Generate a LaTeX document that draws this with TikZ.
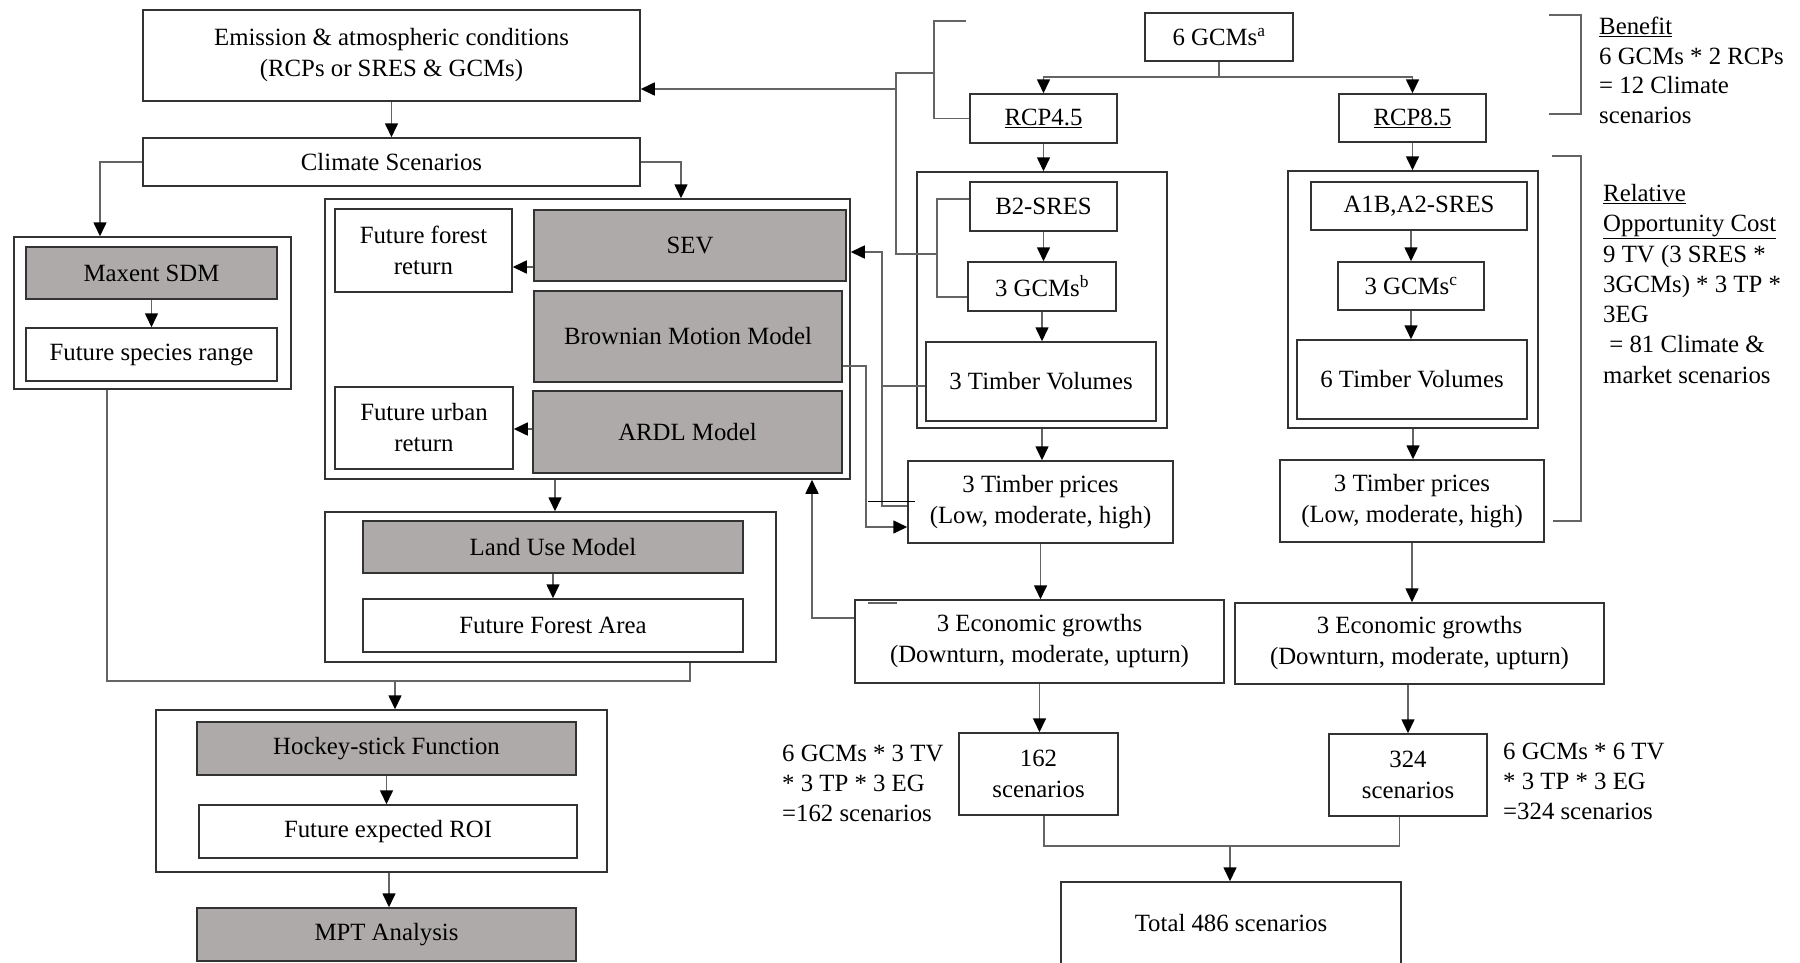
\documentclass[tikz,border=0pt]{standalone}
\usepackage{fontspec}
\setmainfont{Liberation Serif}
\usetikzlibrary{arrows.meta}
\definecolor{modelgray}{RGB}{174,170,170}
\definecolor{linegray}{RGB}{100,100,100}

\begin{document}
\begin{tikzpicture}[
            x=1pt, y=-1pt,
            every node/.style={font=\fontsize{24.8}{31}\selectfont, inner sep=0pt},
            box/.style={draw=black!80, line width=1.5pt, fill=white, align=center},
            modelbox/.style={box, fill=modelgray},
            groupbox/.style={draw=black!80, line width=1.5pt},
            note/.style={align=left, anchor=north west, font=\fontsize{24.8}{29.5}\selectfont},
            conn/.style={draw=linegray, line width=1.6pt},
            arr/.style={conn, -{Triangle[length=14pt, width=13pt, color=black]}}
            ]
        \useasboundingbox (0,0) rectangle (1800,962);

        \node[box, minimum width=497pt, minimum height=91pt] (emis) at (391.5,55.5) {Emission \& atmospheric conditions\\(RCPs or SRES \& GCMs)};
        \node[box, minimum width=497pt, minimum height=48pt] (clim) at (391.5,162) {Climate Scenarios};
        \node[groupbox, minimum width=277pt, minimum height=152pt] (maxgrp) at (152.5,313) {};
        \node[modelbox, minimum width=251pt, minimum height=52pt] (maxent) at (151.5,273) {Maxent SDM};
        \node[box, minimum width=251pt, minimum height=53pt] (range) at (151.5,354.5) {Future species range};
        \node[groupbox, minimum width=525pt, minimum height=280pt] (modgrp) at (587.5,339) {};
        \node[box, minimum width=177pt, minimum height=83pt] (forret) at (423.5,250.5) {Future forest\\return};
        \node[modelbox, minimum width=312pt, minimum height=71pt] (sev) at (690,245.5) {SEV};
        \node[modelbox, minimum width=308pt, minimum height=91pt] (bmm) at (688,336.5) {Brownian Motion Model};
        \node[box, minimum width=178pt, minimum height=82pt] (urbret) at (424,428) {Future urban\\return};
        \node[modelbox, minimum width=309pt, minimum height=82pt] (ardl) at (687.5,432) {ARDL Model};
        \node[groupbox, minimum width=451pt, minimum height=150pt] (lugrp) at (550.5,587) {};
        \node[modelbox, minimum width=380pt, minimum height=52pt] (lum) at (553,547) {Land Use Model};
        \node[box, minimum width=380pt, minimum height=53pt] (area) at (553,625.5) {Future Forest Area};
        \node[groupbox, minimum width=451pt, minimum height=162pt] (hsgrp) at (381.5,791) {};
        \node[modelbox, minimum width=379pt, minimum height=53pt] (hockey) at (386.5,748.5) {Hockey-stick Function};
        \node[box, minimum width=378pt, minimum height=53pt] (roi) at (388,831.5) {Future expected ROI};
        \node[modelbox, minimum width=379pt, minimum height=53pt] (mpt) at (386.5,934.5) {MPT Analysis};

        \node[box, minimum width=148pt, minimum height=48pt] (gcm6) at (1219,37) {6 GCMs\textsuperscript{a}};
        \node[box, minimum width=147pt, minimum height=49pt] (rcp45) at (1043.5,118.5) {\underline{RCP4.5}};
        \node[box, minimum width=147pt, minimum height=48pt] (rcp85) at (1412.5,118) {\underline{RCP8.5}};
        \node[groupbox, minimum width=250pt, minimum height=256pt] (lgrp) at (1042,300) {};
        \node[box, minimum width=147pt, minimum height=49pt] (b2) at (1043.5,206.5) {B2-SRES};
        \node[box, minimum width=148pt, minimum height=49pt] (gcm3b) at (1042,286.5) {3 GCMs\textsuperscript{b}};
        \node[box, minimum width=230pt, minimum height=79pt] (tv3) at (1041,381.5) {3 Timber Volumes};
        \node[groupbox, minimum width=250pt, minimum height=257pt] (rgrp) at (1413,299.5) {};
        \node[box, minimum width=216pt, minimum height=48pt] (a1b) at (1419,206) {A1B,A2-SRES};
        \node[box, minimum width=146pt, minimum height=48pt] (gcm3c) at (1411,286) {3 GCMs\textsuperscript{c}};
        \node[box, minimum width=230pt, minimum height=79pt] (tv6) at (1412,379.5) {6 Timber Volumes};
        \node[box, minimum width=265pt, minimum height=82pt] (tpl) at (1040.5,502) {3 Timber prices\\(Low, moderate, high)};
        \node[box, minimum width=264pt, minimum height=82pt] (tpr) at (1412,501) {3 Timber prices\\(Low, moderate, high)};
        \node[box, minimum width=369pt, minimum height=83pt] (egl) at (1039.5,641.5) {3 Economic growths\\(Downturn, moderate, upturn)};
        \node[box, minimum width=369pt, minimum height=81pt] (egr) at (1419.5,643.5) {3 Economic growths\\(Downturn, moderate, upturn)};
        \node[box, minimum width=159pt, minimum height=82pt] (sc162) at (1038.5,774) {162\\scenarios};
        \node[box, minimum width=158pt, minimum height=82pt] (sc324) at (1408,775) {324\\scenarios};
        \node[box, minimum width=340pt, minimum height=82pt] (total) at (1231,923) {Total 486 scenarios};

        \node[note] (bennote) at (1599,17) {\underline{Benefit}\\6 GCMs * 2 RCPs\\= 12 Climate\\scenarios};
        \node[note, font=\fontsize{24.8}{30.3}\selectfont] (costnote) at (1603,184) {\underline{Relative}\\\underline{Opportunity Cost}\\9 TV (3 SRES *\\3GCMs) * 3 TP *\\3EG\\\ = 81 Climate \&\\market scenarios};
        \node[note, font=\fontsize{24.8}{30}\selectfont] (lnote) at (782,745) {6 GCMs * 3 TV\\{}* 3 TP * 3 EG\\=162 scenarios};
        \node[note, font=\fontsize{24.8}{30}\selectfont] (rnote) at (1503,743) {6 GCMs * 6 TV\\{}* 3 TP * 3 EG\\=324 scenarios};

        \draw[arr] (emis) -- (clim);
        \draw[arr] (clim.west) -| (100,0 |- maxgrp.north);
        \draw[arr] (clim.east) -| (681,0 |- modgrp.north);
        \draw[arr] (sev.west |- 0,267) -- (forret.east |- 0,267);
        \draw[arr] (ardl.west |- 0,429) -- (urbret.east |- 0,429);
        \draw[arr] (maxent) -- (range);
        \draw[arr] (555,0 |- modgrp.south) -- (555,0 |- lugrp.north);
        \draw[arr] (lum) -- (area);
        \coordinate (merge1) at (395,681);
        \draw[conn] (107,0 |- maxgrp.south) |- (merge1) -| (690,0 |- lugrp.south);
        \draw[arr] (merge1) -- (merge1 |- hsgrp.north);
        \draw[arr] (hockey.south) -- (hockey.south |- roi.north);
        \draw[arr] (389,0 |- hsgrp.south) -- (389,0 |- mpt.north);

        \coordinate (split) at (1219,77);
        \draw[conn] (gcm6) -- (split);
        \draw[arr] (split) -| (rcp45);
        \draw[arr] (split) -| (rcp85);
        \draw[arr] (rcp45.south) -- (rcp45.south |- lgrp.north);
        \draw[arr] (rcp85.south) -- (rcp85.south |- rgrp.north);
        \draw[arr] (b2.south) -- (b2.south |- gcm3b.north);
        \draw[arr] (gcm3b.south) -- (gcm3b.south |- tv3.north);
        \draw[arr] (gcm3c |- a1b.south) -- (gcm3c.north);
        \draw[arr] (gcm3c.south) -- (gcm3c.south |- tv6.north);
        \draw[arr] (lgrp.south) -- (lgrp.south |- tpl.north);
        \draw[arr] (rgrp.south) -- (rgrp.south |- tpr.north);
        \draw[arr] (tpl.south) -- (tpl.south |- egl.north);
        \draw[arr] (tpr.south) -- (tpr.south |- egr.north);
        \draw[arr] (egl.south) -- (egl.south |- sc162.north);
        \draw[arr] (sc324.north |- egr.south) -- (sc324.north);
        \coordinate (merge2) at (1230,846);
        \draw[conn] (1044,0 |- sc162.south) |- (merge2) -| (1399.5,0 |- sc324.south);
        \draw[arr] (merge2) -- (merge2 |- total.north);

        \coordinate (brtop) at (966,21);
        \draw[conn] (brtop) -| (934,0 |- rcp45.west) -- (rcp45.west);
        \draw[conn] (934,73) -| (896,254) -- (937,254);
        \draw[arr] (896,89) -- (emis.east |- 0,89);
        \draw[conn] (b2.west |- 0,199) -| (937,297) -- (gcm3b.west |- 0,297);
        \draw[conn] (tv3.west |- 0,386) -- (882,386);
        \draw[arr] (tpl.west |- 0,506) -| (882,252) -- (modgrp.east |- 0,252);
        \draw[arr] (bmm.east |- 0,366) -| (866,527) -- (tpl.west |- 0,527);
        \draw[arr] (egl.west |- 0,618) -| (812,0 |- modgrp.south);
        \draw[conn, line width=1pt, draw=black] (868,501) -- (915,501);
        \draw[conn, line width=2.5pt] (868,603) -- (897,603);

        \draw[conn] (1549,15) -| (1581,114) -- (1549,114);
        \draw[conn] (1552,156) -| (1581,521) -- (1553,521);
        \end{tikzpicture}
\end{document}
